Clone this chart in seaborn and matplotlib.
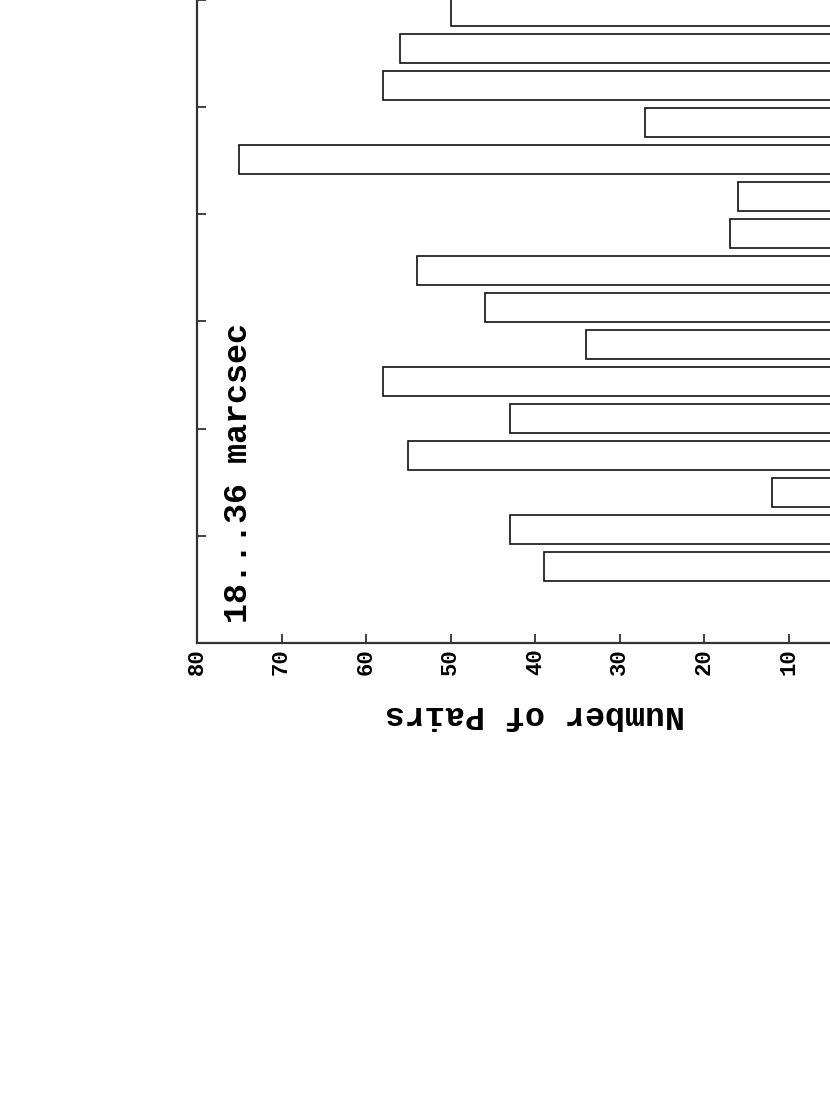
import matplotlib
matplotlib.use('Agg')
import matplotlib.pyplot as plt
import seaborn as sns
import pandas as pd

# counts per bin, first bin (bottom of the rotated page) to last
bin_index = list(range(16))
pair_counts = [39, 43, 12, 55, 43, 58, 34, 46, 54, 17, 16, 75, 27, 58, 56, 50]

count_ticks = [80, 70, 60, 50, 40, 30, 20, 10]
count_labels = ['80', '70', '60', '50', '40', '30', '20', '10']

# separation ticks along the (rotated) vertical axis, in bin units
sep_tick_step = 2.897
sep_axis_start = -2.068

sns.set_theme(style='white')
plt.rcParams['font.family'] = ['Liberation Mono', 'DejaVu Sans Mono']
plt.rcParams['font.weight'] = 'bold'
plt.rcParams['text.color'] = 'black'
plt.rcParams['xtick.color'] = 'black'
plt.rcParams['axes.labelcolor'] = 'black'

df = pd.DataFrame({'bin': bin_index, 'count': pair_counts})

fig = plt.figure(figsize=(8.3, 11.07), dpi=100)
# axes reach past the right edge of the page, as in the scan
ax = fig.add_axes([197 / 830, (1107 - 643) / 1107, 676.6 / 830, 643 / 1107])

sns.barplot(data=df, x='count', y='bin', orient='h', color='white',
            edgecolor='#111111', linewidth=1.2, width=0.8, saturation=1,
            ax=ax)

ax.set_xlim(80, 0)
ax.set_ylim(sep_axis_start, 15.31)

ax.set_xticks(count_ticks)
ax.set_xticklabels(count_labels, rotation=90, fontsize=16, fontweight='bold',
                   color='black')
sep_ticks = [sep_axis_start + sep_tick_step * k for k in range(1, 7)]
ax.set_yticks(sep_ticks)
ax.set_yticklabels([])
ax.set_ylabel('')

ax.tick_params(axis='x', direction='in', length=6.5, width=1.3, color='#333333',
               pad=4, bottom=True)
ax.tick_params(axis='y', direction='in', length=6.5, width=1.3, color='#333333',
               left=True)

for side in ['top', 'right']:
    ax.spines[side].set_visible(False)
for side in ['left', 'bottom']:
    ax.spines[side].set_color('#333333')
    ax.spines[side].set_linewidth(1.6)

ax.set_xlabel('Number of Pairs', rotation=180, fontsize=24, fontweight='bold',
              va='center', color='black')
ax.xaxis.set_label_coords(0.5, -71 / 643)

ax.text(0.062, 0.031, '18...36 marcsec', transform=ax.transAxes, rotation=90,
        ha='center', va='bottom', fontsize=24, fontweight='bold', color='black')

fig.savefig('out.png', dpi=100)
